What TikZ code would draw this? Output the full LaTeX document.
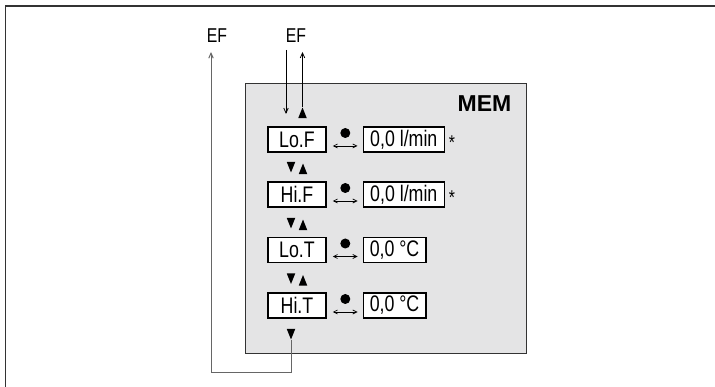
\documentclass[tikz,border=0pt]{standalone}
\usepackage{fontspec}
\setmainfont{Liberation Sans}[FakeStretch=0.79]
\newfontfamily\memfont{Liberation Sans}[BoldFont={Liberation Sans Bold}]
\usetikzlibrary{arrows.meta,shapes.geometric}
\definecolor{panelgrey}{HTML}{E4E4E5}
\definecolor{edgegrey}{HTML}{333333}
\definecolor{loopgrey}{HTML}{666666}
\tikzset{
  lbl/.style={font=\fontsize{20}{22}\selectfont, inner sep=0pt},
  keybox/.style={draw=black, line width=1.6pt, fill=white, minimum height=25pt, inner sep=0pt, font=\fontsize{22.5}{24}\selectfont},
  tri/.style={isosceles triangle, isosceles triangle stretches=true, minimum height=10.5pt, minimum width=8.5pt, inner sep=0pt, fill=black, draw=none},
  triup/.style={tri, shape border rotate=90, anchor=apex},
  tridown/.style={tri, shape border rotate=270, anchor=apex},
  thinarrow/.style={line width=0.8pt, -{Straight Barb[length=5pt,width=4.5pt]}},
  dblarrow/.style={line width=0.7pt, {Straight Barb[length=4pt,width=4pt]}-{Straight Barb[length=4pt,width=4pt]}},
  dot/.style={circle, fill=black, minimum size=10pt, inner sep=0pt},
  star/.style={font=\fontsize{20}{20}\selectfont, inner sep=0pt}
}
\begin{document}
\begin{tikzpicture}[x=1pt,y=-1pt]
\useasboundingbox (0,0) rectangle (715,387);
% frame
\draw[edgegrey, line width=1.5pt] (5.5,387) -- (5.5,6) -- (715,6);
% panel
\node[draw=edgegrey, line width=1.2pt, fill=panelgrey, minimum width=281pt, minimum height=270pt, inner sep=0pt, anchor=north west] (panel) at (245,83) {};
\node[font=\memfont\bfseries\fontsize{23}{25}\selectfont, inner sep=0pt] (mem) at (484.5,104) {MEM};
% EF labels
\node[lbl] (efl) at (217,36) {EF};
\node[lbl] (efr) at (296,36) {EF};
% rows
\node[keybox, minimum width=58pt] (lof) at (297,139.5) {Lo.F};
\node[keybox, minimum width=58pt] (hif) at (297,194.5) {Hi.F};
\node[keybox, minimum width=58pt] (lot) at (297,250) {Lo.T};
\node[keybox, minimum width=58pt] (hit) at (297,305.5) {Hi.T};
\node[keybox, minimum width=81pt, anchor=west] (lofv) at (362.5,139.5) {0,0 l/min};
\node[keybox, minimum width=81pt, anchor=west] (hifv) at (362.5,194.5) {0,0 l/min};
\node[keybox, minimum width=62.5pt, anchor=west] (lotv) at (362.5,250) {0,0 °C};
\node[keybox, minimum width=62.5pt, anchor=west] (hitv) at (362.5,305.5) {0,0 °C};
\node[star] (s1) at (452,143) {*};
\node[star] (s2) at (452,198) {*};
% dots and double arrows
\foreach \r/\v in {lof/lofv,hif/hifv,lot/lotv,hit/hitv}{
  \node[dot] (d\r) at ([xshift=18.5pt,yshift=6.5pt]\r.east) {};
  \coordinate (a\r) at ([xshift=6pt,yshift=-6.5pt]\r.east);
  \coordinate (b\r) at ([xshift=-5pt,yshift=-6.5pt]\v.west);
  \draw[dblarrow] (a\r) -- (b\r);
}
% triangles (apex positions)
\node[triup] (top) at (302.5,107) {};
\node[tridown] (d1) at (291,173) {};
\node[triup] (u1) at (303,163) {};
\node[tridown] (d2) at (291,229) {};
\node[triup] (u2) at (303,219) {};
\node[tridown] (d3) at (291,284.5) {};
\node[triup] (u3) at (303,274.5) {};
\node[tridown] (bot) at (291,340) {};
% EF connectors
\coordinate (inS) at (286,50);
\coordinate (inE) at (286,114);
\draw[thinarrow] (inS) -- (inE);
\coordinate (outE) at (302.5,52);
\draw[thinarrow] (top.apex) -- (outE);
\coordinate (c1) at (291,372);
\coordinate (c2) at (211,372);
\coordinate (c3) at (211,52);
\draw[loopgrey, line width=1pt] (bot.apex) -- (c1) -- (c2);
\draw[loopgrey, thinarrow, line width=1pt] (c2) -- (c3);
\end{tikzpicture}
\end{document}
